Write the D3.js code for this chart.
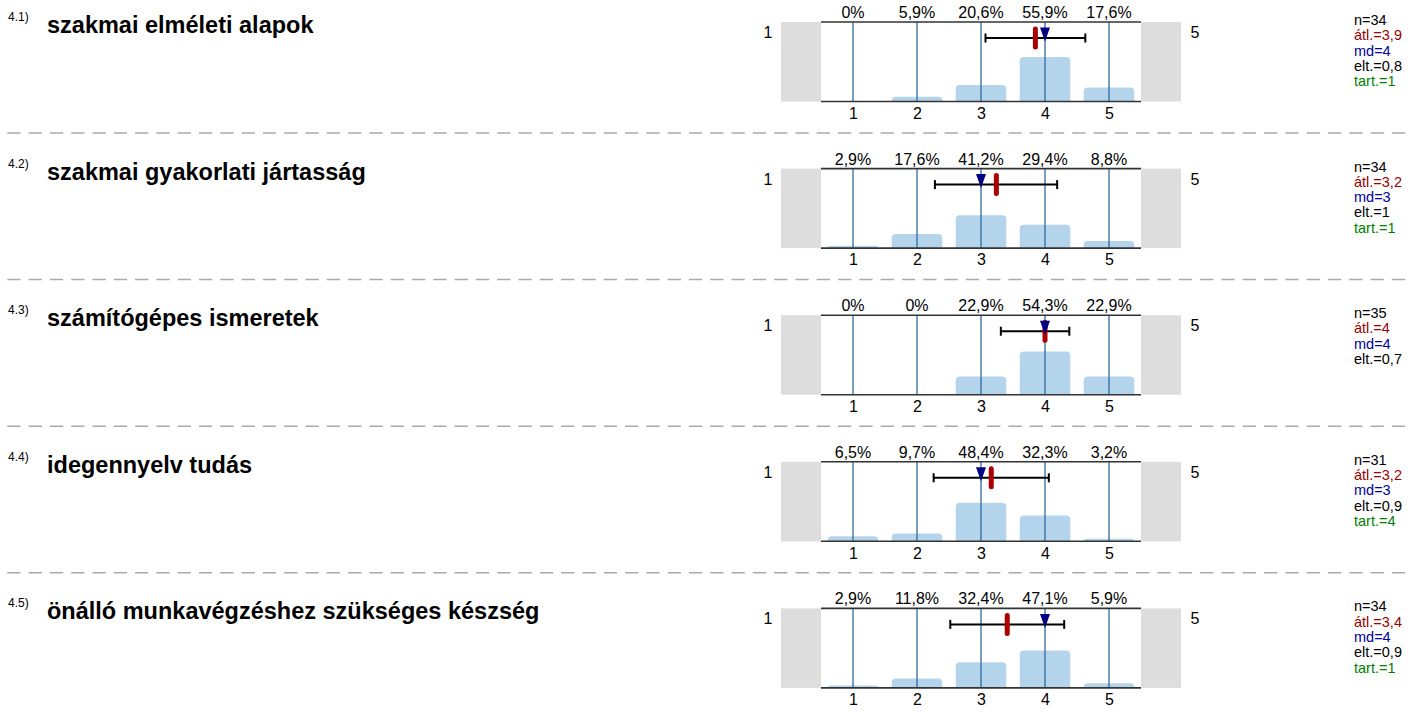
<!DOCTYPE html>
<html>
<head>
<meta charset="utf-8">
<script src="https://cdn.jsdelivr.net/npm/d3@7"></script>
<style>
  body { margin: 0; background: #fff; }
  svg text { font-family: "Liberation Sans", Arial, sans-serif; }
</style>
</head>
<body>
<div id="container"></div>
<script>
// chart data
const codes = ['4.1)', '4.2)', '4.3)', '4.4)', '4.5)'];
const titles = [
  'szakmai elméleti alapok',
  'szakmai gyakorlati jártasság',
  'számítógépes ismeretek',
  'idegennyelv tudás',
  'önálló munkavégzéshez szükséges készség'
];
const categories = [1, 2, 3, 4, 5];
const percents = [
  [0, 5.9, 20.6, 55.9, 17.6],
  [2.9, 17.6, 41.2, 29.4, 8.8],
  [0, 0, 22.9, 54.3, 22.9],
  [6.5, 9.7, 48.4, 32.3, 3.2],
  [2.9, 11.8, 32.4, 47.1, 5.9]
];
const nValues = [34, 34, 35, 31, 34];
const means = [3.85, 3.24, 4.0, 3.16, 3.41];
const medians = [4, 3, 4, 3, 4];
const sds = [0.78, 0.96, 0.69, 0.9, 0.89];
const errLow = [3.07, 2.28, 3.31, 2.26, 2.52];
const errHigh = [4.63, 4.19, 4.38, 4.06, 4.3];
const tart = [1, 1, null, 4, 1];

const WIDTH = 1410;
const HEIGHT = 717;
const PANEL_TOP = 22;
const PANEL_STEP = 146.6;
const PLOT_H = 79.5;

const loc = d3.formatLocale({ decimal: ',', thousands: ' ', grouping: [3], currency: ['', ''] });
const fmt1 = loc.format('.1~f');

const svg = d3.select('#container')
  .append('svg')
  .attr('width', WIDTH)
  .attr('height', HEIGHT);

const x = d3.scaleLinear().domain([0.5, 5.5]).range([821, 1141]);
const y = d3.scaleLinear().domain([0, 100]).range([PLOT_H, 0]);
const bandW = x(1.5) - x(0.5);
const barW = bandW * 0.79;

function barPath(cx, top, bottom, w, r) {
  const h = bottom - top;
  if (h <= 0) return '';
  r = Math.min(r, h, w / 2);
  const x0 = cx - w / 2, x1 = cx + w / 2;
  return `M${x0},${bottom}V${top + r}Q${x0},${top} ${x0 + r},${top}` +
    `H${x1 - r}Q${x1},${top} ${x1},${top + r}V${bottom}Z`;
}

titles.forEach((title, i) => {
  const g = svg.append('g')
    .attr('transform', `translate(0, ${PANEL_TOP + i * PANEL_STEP})`);

  // labels on the left
  g.append('text')
    .attr('x', 8).attr('y', -1)
    .attr('font-size', 12)
    .attr('fill', '#000')
    .text(codes[i]);
  g.append('text')
    .attr('x', 47).attr('y', 11)
    .attr('font-size', 23.5)
    .attr('font-weight', 'bold')
    .attr('fill', '#000')
    .text(title);

  // grey end boxes
  g.append('rect')
    .attr('x', x(0.5) - 40).attr('y', 0)
    .attr('width', 40).attr('height', PLOT_H)
    .attr('fill', '#dddddd');
  g.append('rect')
    .attr('x', x(5.5)).attr('y', 0)
    .attr('width', 40).attr('height', PLOT_H)
    .attr('fill', '#dddddd');

  g.append('text')
    .attr('x', 768).attr('y', 16)
    .attr('text-anchor', 'middle')
    .attr('font-size', 16)
    .text('1');
  g.append('text')
    .attr('x', 1195).attr('y', 16)
    .attr('text-anchor', 'middle')
    .attr('font-size', 16)
    .text('5');

  // bars
  g.selectAll('path.bar')
    .data(percents[i])
    .enter()
    .append('path')
      .attr('class', 'bar')
      .attr('d', (d, j) => barPath(x(categories[j]), y(d), PLOT_H, barW, 4))
      .attr('fill', '#b4d4eb');

  // vertical category lines
  g.selectAll('line.cat')
    .data(categories)
    .enter()
    .append('line')
      .attr('class', 'cat')
      .attr('x1', d => x(d)).attr('x2', d => x(d))
      .attr('y1', 0).attr('y2', PLOT_H)
      .attr('stroke', '#2f6aa0')
      .attr('stroke-width', 1.3);

  // top and bottom rules
  [0, PLOT_H].forEach(yy => {
    g.append('line')
      .attr('x1', x(0.5)).attr('x2', x(5.5))
      .attr('y1', yy).attr('y2', yy)
      .attr('stroke', '#333')
      .attr('stroke-width', 1.6);
  });

  // percent labels
  g.selectAll('text.pct')
    .data(percents[i])
    .enter()
    .append('text')
      .attr('class', 'pct')
      .attr('x', (d, j) => x(categories[j]))
      .attr('y', -4)
      .attr('text-anchor', 'middle')
      .attr('font-size', 16)
      .text(d => fmt1(d) + '%');

  // bottom axis
  const axis = d3.axisBottom(x).tickValues(categories).tickSize(0).tickPadding(6)
    .tickFormat(d3.format('d'));
  const ax = g.append('g')
    .attr('transform', `translate(0, ${PLOT_H})`)
    .call(axis);
  ax.select('.domain').remove();
  ax.selectAll('text')
    .attr('font-size', 16)
    .attr('font-family', '"Liberation Sans", Arial, sans-serif')
    .attr('fill', '#000');

  // error bar
  const ey = 16;
  g.append('line')
    .attr('x1', x(errLow[i])).attr('x2', x(errHigh[i]))
    .attr('y1', ey).attr('y2', ey)
    .attr('stroke', '#000').attr('stroke-width', 2);
  [errLow[i], errHigh[i]].forEach(v => {
    g.append('line')
      .attr('x1', x(v)).attr('x2', x(v))
      .attr('y1', ey - 4.5).attr('y2', ey + 4.5)
      .attr('stroke', '#000').attr('stroke-width', 2);
  });

  // mean marker
  g.append('line')
    .attr('x1', x(means[i])).attr('x2', x(means[i]))
    .attr('y1', 7).attr('y2', 25)
    .attr('stroke', '#aa0000')
    .attr('stroke-width', 5)
    .attr('stroke-linecap', 'round');

  // median triangle
  const mx = x(medians[i]);
  g.append('path')
    .attr('d', `M${mx - 5},5.5L${mx + 5},5.5L${mx},19.5Z`)
    .attr('fill', '#000080');

  // stats text
  const stats = [
    { t: 'n=' + nValues[i], c: '#000' },
    { t: 'átl.=' + fmt1(means[i]), c: '#990000' },
    { t: 'md=' + medians[i], c: '#000099' },
    { t: 'elt.=' + fmt1(sds[i]), c: '#000' }
  ];
  if (tart[i] !== null) stats.push({ t: 'tart.=' + tart[i], c: '#008000' });
  g.selectAll('text.stat')
    .data(stats)
    .enter()
    .append('text')
      .attr('class', 'stat')
      .attr('x', 1354)
      .attr('y', (d, k) => 3 + k * 15.3)
      .attr('font-size', 14.5)
      .attr('fill', d => d.c)
      .text(d => d.t);

  // dashed separator
  if (i < titles.length - 1) {
    g.append('line')
      .attr('x1', 7.3).attr('x2', WIDTH)
      .attr('y1', 111).attr('y2', 111)
      .attr('stroke', '#aaaaaa')
      .attr('stroke-width', 1.5)
      .attr('stroke-dasharray', '13.3,8');
  }
});
</script>
</body>
</html>
